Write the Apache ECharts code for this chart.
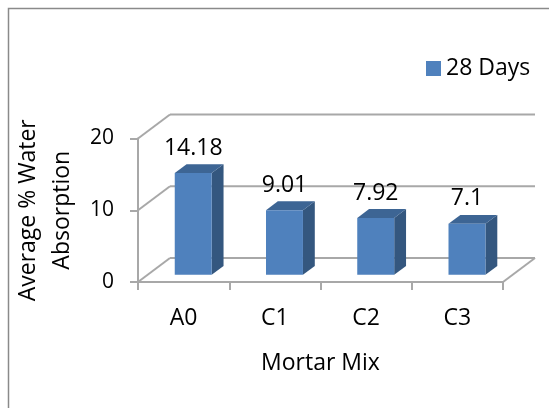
<!DOCTYPE html>
<html>
<head>
<meta charset="utf-8">
<script src="https://cdn.jsdelivr.net/npm/echarts@6/dist/echarts.min.js"></script>
<style>
  html, body { margin: 0; padding: 0; background: #fff; }
  #chart { width: 549px; height: 408px; }
</style>
</head>
<body>
<div id="chart"></div>
<script>
// Average % water absorption of mortar mixes after 28 days
const categories = ['A0', 'C1', 'C2', 'C3'];
const absorption28 = [14.18, 9.01, 7.92, 7.1];
const yTicks = [0, 10, 20];
const seriesName = '28 Days';

// Oblique depth of the 3-D box (pixels from front plane to back wall)
const DEPTH_X = 32;
const DEPTH_Y = -24;
// Bars sit inside the box: front face at 30% of the depth, 37% deep
const BAR_FRONT = 0.30;
const BAR_DEPTH = 0.37;
const BAR_WIDTH_RATIO = 0.405;

const FONT = '"Open Sans", "Noto Sans", sans-serif';
const GRID_COLOR = '#a8a8a8';
const FRONT_COLOR = '#4f81bd';
const SIDE_COLOR = '#34577f';
const TOP_COLOR = '#3d6594';

const chart = echarts.init(document.getElementById('chart'), null, { renderer: 'canvas' });

// Back wall and floor lines for each value-axis tick
function renderWalls(params, api) {
  const cs = params.coordSys;
  const t = api.value(1);
  const y = api.coord([0, t])[1];
  const x0 = cs.x;
  const x1 = cs.x + cs.width;
  const style = { stroke: GRID_COLOR, lineWidth: 2, fill: null };
  const children = [
    { type: 'line', shape: { x1: x0, y1: y, x2: x0 + DEPTH_X, y2: y + DEPTH_Y }, style },
    { type: 'line', shape: { x1: x0 + DEPTH_X, y1: y + DEPTH_Y, x2: x1 + DEPTH_X, y2: y + DEPTH_Y }, style }
  ];
  if (t === 0) {
    children.push({ type: 'line', shape: { x1: x1, y1: y, x2: x1 + DEPTH_X, y2: y + DEPTH_Y }, style });
  }
  return { type: 'group', children };
}

// One 3-D column: front face, right side and top, plus its value label
function renderBar(params, api) {
  const idx = api.value(0);
  const val = api.value(1);
  const base = api.coord([idx, 0]);
  const top = api.coord([idx, val]);
  const band = api.size([1, 0])[0];
  const w = band * BAR_WIDTH_RATIO;
  const ox = DEPTH_X * BAR_FRONT, oy = DEPTH_Y * BAR_FRONT;
  const dx = DEPTH_X * BAR_DEPTH, dy = DEPTH_Y * BAR_DEPTH;
  const xl = base[0] + ox - w / 2;
  const xr = base[0] + ox + w / 2;
  const yb = base[1] + oy;
  const yt = top[1] + oy;
  return {
    type: 'group',
    children: [
      { type: 'polygon', shape: { points: [[xr, yb], [xr + dx, yb + dy], [xr + dx, yt + dy], [xr, yt]] },
        style: { fill: SIDE_COLOR } },
      { type: 'polygon', shape: { points: [[xl, yt], [xr, yt], [xr + dx, yt + dy], [xl + dx, yt + dy]] },
        style: { fill: TOP_COLOR } },
      { type: 'rect', shape: { x: xl, y: yt, width: w, height: yb - yt },
        style: { fill: FRONT_COLOR } },
      { type: 'text', style: { text: String(absorption28[idx]), x: (xl + xr) / 2, y: yt - 25,
        align: 'center', verticalAlign: 'middle', fill: '#000', font: '23px ' + FONT } }
    ]
  };
}

const option = {
  animation: false,
  backgroundColor: '#fff',
  textStyle: { fontFamily: FONT },
  graphic: [
    { type: 'rect', shape: { x: 8.5, y: 8.5, width: 600, height: 500 },
      style: { fill: null, stroke: '#8a8a8a', lineWidth: 1.5 }, silent: true }
  ],
  legend: {
    data: [seriesName],
    left: 421, top: 52,
    icon: 'rect', itemWidth: 15, itemHeight: 15, itemGap: 10,
    textStyle: { fontSize: 23, color: '#000', fontFamily: FONT }
  },
  grid: { left: 138, right: 46, top: 138.5, bottom: 126, containLabel: false, outerBoundsMode: 'none' },
  xAxis: {
    type: 'category',
    data: categories,
    boundaryGap: true,
    name: 'Mortar Mix',
    nameLocation: 'middle',
    nameGap: 70,
    nameTextStyle: { fontSize: 23, color: '#000', fontFamily: FONT },
    axisLine: { show: true, lineStyle: { color: GRID_COLOR, width: 2 } },
    axisTick: { show: true, length: 8, interval: 0, lineStyle: { color: GRID_COLOR, width: 2 } },
    axisLabel: { fontSize: 23, color: '#000', margin: 25, fontFamily: FONT },
    splitLine: { show: false }
  },
  yAxis: {
    type: 'value',
    min: 0, max: 20, interval: 10,
    name: 'Average % Water\nAbsorption',
    nameLocation: 'middle',
    nameGap: 47,
    nameRotate: 90,
    nameTextStyle: { fontSize: 23, color: '#000', lineHeight: 34, fontFamily: FONT },
    axisLine: { show: true, lineStyle: { color: GRID_COLOR, width: 2 } },
    axisTick: { show: true, length: 8, lineStyle: { color: GRID_COLOR, width: 2 } },
    axisLabel: { fontSize: 21, color: '#000', margin: 24, fontFamily: FONT },
    splitLine: { show: false }
  },
  series: [
    {
      name: 'walls',
      type: 'custom',
      silent: true,
      z: 1,
      renderItem: renderWalls,
      data: yTicks.map(t => [0, t])
    },
    {
      name: seriesName,
      type: 'custom',
      z: 2,
      itemStyle: { color: FRONT_COLOR },
      renderItem: renderBar,
      data: absorption28.map((v, i) => [i, v])
    }
  ]
};

chart.setOption(option);
</script>
</body>
</html>
